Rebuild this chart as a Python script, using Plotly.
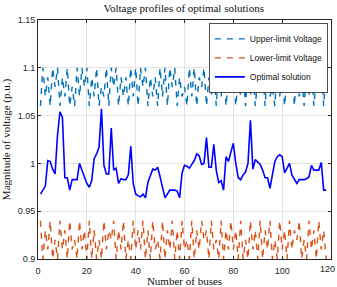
import plotly.graph_objects as go

buses = list(range(1, 119))

optimal = [0.968, 0.972, 0.976, 1.003, 1.002, 0.994, 0.989, 1.030, 1.054, 1.048,
           0.985, 0.985, 0.972, 0.983, 0.983, 0.983, 1.000, 0.993, 0.985, 0.979,
           0.975, 0.982, 1.005, 1.010, 1.017, 1.057, 0.998, 0.989, 0.989, 1.037,
           0.993, 0.995, 0.979, 0.984, 0.983, 0.983, 0.988, 1.018, 0.979, 0.968,
           0.966, 0.965, 0.968, 0.964, 0.980, 0.986, 0.994, 0.993, 0.996, 0.986,
           0.975, 0.964, 0.968, 0.972, 0.972, 0.972, 0.971, 0.964, 0.990, 0.998,
           0.997, 0.995, 0.999, 1.003, 1.010, 1.008, 0.999, 1.000, 1.027, 0.996,
           0.996, 1.020, 0.993, 0.980, 0.982, 0.972, 1.007, 1.002, 1.012, 1.021,
           1.000, 0.985, 0.983, 0.988, 0.991, 1.000, 1.045, 0.994, 1.004, 1.001,
           0.999, 0.993, 0.985, 0.985, 0.974, 0.988, 1.002, 1.007, 1.009, 1.007,
           0.990, 0.995, 1.000, 0.988, 0.983, 0.979, 0.983, 0.983, 0.983, 0.984,
           0.986, 0.998, 0.993, 0.993, 0.993, 1.001, 0.972, 0.972]

upper = [1.06, 1.10, 1.07, 1.09, 1.06, 1.10, 1.08, 1.10, 1.06, 1.09,
         1.07, 1.10, 1.06, 1.08, 1.06, 1.10, 1.07, 1.10, 1.08, 1.10,
         1.06, 1.09, 1.07, 1.10, 1.06, 1.08, 1.07, 1.10, 1.06, 1.10,
         1.08, 1.10, 1.06, 1.09, 1.07, 1.09, 1.06, 1.10, 1.07, 1.10,
         1.06, 1.10, 1.08, 1.10, 1.06, 1.09, 1.07, 1.09, 1.06, 1.10,
         1.07, 1.10, 1.06, 1.10, 1.08, 1.10, 1.06, 1.09, 1.07, 1.08,
         1.06, 1.10, 1.07, 1.10, 1.06, 1.09, 1.08, 1.10, 1.06, 1.09,
         1.07, 1.10, 1.06, 1.10, 1.07, 1.10, 1.06, 1.09, 1.08, 1.10,
         1.06, 1.09, 1.07, 1.10, 1.06, 1.10, 1.07, 1.10, 1.06, 1.09,
         1.08, 1.10, 1.06, 1.10, 1.07, 1.08, 1.06, 1.10, 1.07, 1.10,
         1.06, 1.09, 1.08, 1.10, 1.06, 1.10, 1.07, 1.09, 1.06, 1.10,
         1.07, 1.10, 1.06, 1.09, 1.08, 1.10, 1.06, 1.10]

lower = [0.94, 0.90, 0.93, 0.91, 0.94, 0.90, 0.92, 0.90, 0.94, 0.91,
         0.93, 0.90, 0.94, 0.91, 0.92, 0.90, 0.94, 0.91, 0.93, 0.90,
         0.94, 0.90, 0.93, 0.90, 0.92, 0.90, 0.94, 0.91, 0.93, 0.92,
         0.94, 0.90, 0.93, 0.91, 0.94, 0.90, 0.92, 0.90, 0.94, 0.91,
         0.93, 0.91, 0.94, 0.90, 0.93, 0.90, 0.94, 0.91, 0.92, 0.90,
         0.94, 0.90, 0.93, 0.91, 0.94, 0.90, 0.93, 0.90, 0.94, 0.91,
         0.92, 0.90, 0.94, 0.90, 0.93, 0.91, 0.94, 0.92, 0.93, 0.90,
         0.94, 0.91, 0.92, 0.90, 0.94, 0.90, 0.93, 0.91, 0.94, 0.91,
         0.93, 0.90, 0.94, 0.90, 0.92, 0.90, 0.94, 0.91, 0.93, 0.90,
         0.94, 0.90, 0.93, 0.91, 0.94, 0.90, 0.92, 0.90, 0.94, 0.91,
         0.93, 0.90, 0.94, 0.91, 0.93, 0.92, 0.94, 0.90, 0.92, 0.90,
         0.94, 0.91, 0.93, 0.90, 0.94, 0.91, 0.93, 0.90]

x_ticks = [0, 20, 40, 60, 80, 100, 120]
y_ticks = [0.9, 0.95, 1.0, 1.05, 1.1, 1.15]
y_tick_text = ["0.9", "0.95", "1", "1.05", "1.1", "1.15"]

serif = "Liberation Serif, Times New Roman"
sans = "Liberation Sans, Arial"

fig = go.Figure()
fig.add_trace(go.Scatter(x=buses, y=upper, mode="lines", name="Upper-limit Voltage",
                         line=dict(color="#0072BD", width=1.4, dash="6px,6px")))
fig.add_trace(go.Scatter(x=buses, y=lower, mode="lines", name="Lower-limit Voltage",
                         line=dict(color="#D95319", width=1.4, dash="6px,6px")))
fig.add_trace(go.Scatter(x=buses, y=optimal, mode="lines", name="Optimal solution",
                         line=dict(color="#0000FF", width=1.6)))

axis_common = dict(showline=True, mirror="ticks", linecolor="#262626", linewidth=1,
                   ticks="inside", ticklen=3, tickcolor="#262626",
                   showgrid=True, gridcolor="#e3e3e3", gridwidth=1, zeroline=False,
                   tickfont=dict(family=sans, size=9, color="#262626"))

fig.update_layout(
    width=337, height=287,
    margin=dict(l=38, r=6, t=20, b=28, autoexpand=False),
    paper_bgcolor="white", plot_bgcolor="white",
    title=dict(text="Voltage profiles of optimal solutions", x=0.545, xanchor="center",
               y=0.985, yanchor="top",
               font=dict(family=serif, size=11, color="#111")),
    xaxis=dict(range=[0, 120], tickvals=x_ticks, ticklabelstandoff=3, **axis_common,
               title=dict(text="Number of buses", standoff=2,
                          font=dict(family=serif, size=11, color="#111"))),
    yaxis=dict(range=[0.9, 1.15], tickvals=y_ticks, ticktext=y_tick_text, **axis_common,
               title=dict(text="Magnitude of voltage (p.u.)", standoff=4,
                          font=dict(family=serif, size=11, color="#111"))),
    legend=dict(x=0.99, y=0.985, xanchor="right", yanchor="top",
                bgcolor="white", bordercolor="#262626", borderwidth=0.8,
                font=dict(family=sans, size=8.5, color="#111"),
                tracegroupgap=0, itemwidth=30),
    showlegend=True,
    annotations=[dict(text=str(x_ticks[-1]), x=x_ticks[-1], xref="x", y=0, yref="paper",
                      xanchor="right", xshift=6, yanchor="top", yshift=-3, showarrow=False,
                      font=dict(family=sans, size=9, color="#262626"))],
)

fig.write_html("out.html")
